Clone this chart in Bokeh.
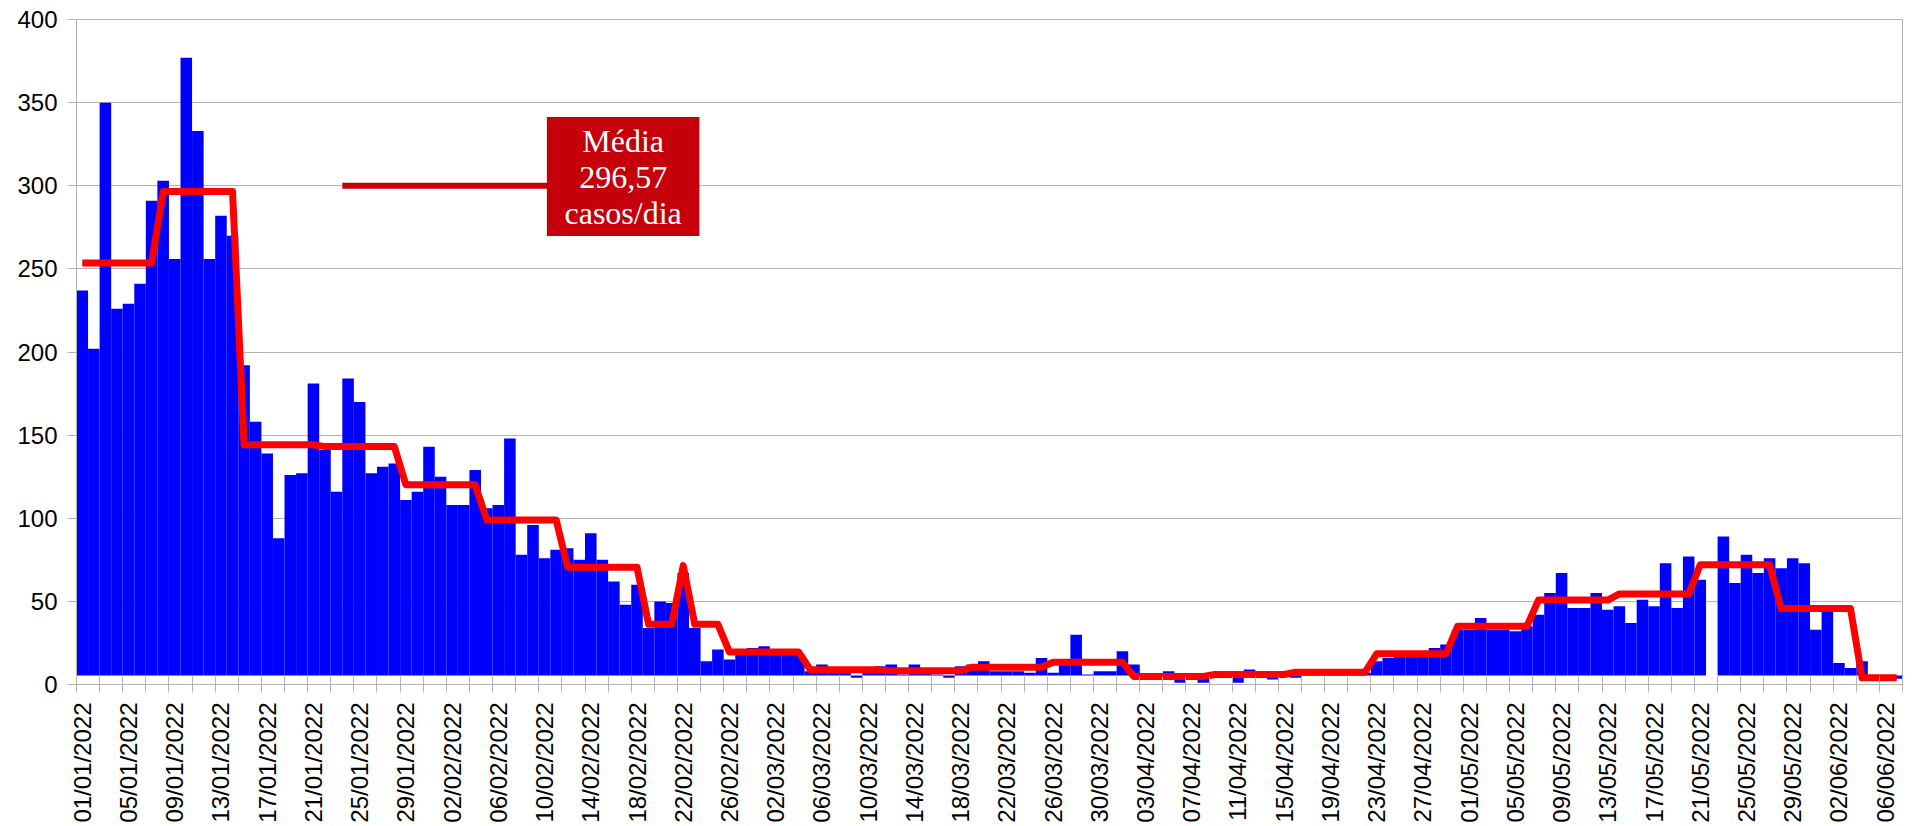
import numpy as np
import pandas as pd
from bokeh.plotting import figure
from bokeh.models import Range1d, FixedTicker, ColumnDataSource
from bokeh.embed import file_html
from bokeh.resources import INLINE
from bokeh.core.properties import value

# ---- data -------------------------------------------------------------
datas = [d.strftime("%d/%m/%Y") for d in pd.date_range("2022-01-01", periods=158)]

casos = [
    237, 202, 350, 226, 229, 241, 291,
    303, 256, 377, 333, 256, 282, 270,
    192, 158, 139, 88, 126, 127, 181,
    141, 116, 184, 170, 127, 131, 133,
    111, 116, 143, 125, 108, 108, 129,
    106, 108, 148, 78, 96, 76, 81,
    82, 75, 91, 75, 62, 48, 60,
    34, 50, 49, 67, 34, 14, 21,
    15, 20, 22, 23, 19, 18, 18,
    8, 12, 9, 8, 4, 9, 11,
    12, 6, 12, 7, 6, 4, 11,
    12, 14, 8, 8, 8, 7, 16,
    7, 14, 30, 6, 8, 8, 20,
    12, 4, 4, 8, 1, 4, 1,
    7, 7, 1, 9, 8, 3, 7,
    4, 8, 7, 8, 7, 9, 7,
    14, 16, 18, 18, 18, 22, 24,
    33, 33, 40, 33, 33, 32, 35,
    42, 55, 67, 46, 46, 55, 45,
    47, 37, 51, 47, 73, 46, 77,
    63, None, 89, 61, 78, 67, 76,
    70, 76, 73, 33, 45, 13, 10,
    14, None, None, 3.5,
]

media = [
    253.6, 253.6, 253.6, 253.6, 253.6, 253.6, 253.6,
    296.57, 296.57, 296.57, 296.57, 296.57, 296.57, 296.57,
    144.2, 144.2, 144.2, 144.2, 144.2, 144.2, 144.2,
    143.1, 143.1, 143.1, 143.1, 143.1, 143.1, 143.1,
    120.1, 120.1, 120.1, 120.1, 120.1, 120.1, 120.1,
    99.0, 99.0, 99.0, 99.0, 99.0, 99.0, 99.0,
    70.5, 70.5, 70.5, 70.5, 70.5, 70.5, 70.5,
    36.2, 36.2, 36.2, 71.5, 36.2, 36.2, 36.2,
    19.5, 19.5, 19.5, 19.5, 19.5, 19.5, 19.5,
    8.8, 8.8, 8.8, 8.8, 8.8, 8.8, 8.8,
    8.2, 8.2, 8.2, 8.2, 8.2, 8.2, 8.2,
    10.4, 10.4, 10.4, 10.4, 10.4, 10.4, 10.4,
    13.4, 13.4, 13.4, 13.4, 13.4, 13.4, 13.4,
    4.8, 4.8, 4.8, 4.8, 4.8, 4.8, 4.8,
    6.0, 6.0, 6.0, 6.0, 6.0, 6.0, 6.0,
    7.4, 7.4, 7.4, 7.4, 7.4, 7.4, 7.4,
    18.5, 18.5, 18.5, 18.5, 18.5, 18.5, 18.5,
    35.0, 35.0, 35.0, 35.0, 35.0, 35.0, 35.0,
    50.8, 50.8, 50.8, 50.8, 50.8, 50.8, 50.8,
    54.5, 54.5, 54.5, 54.5, 54.5, 54.5, 54.5,
    72.0, 72.0, 72.0, 72.0, 72.0, 72.0, 72.0,
    45.7, 45.7, 45.7, 45.7, 45.7, 45.7, 45.7,
    4.0, 4.0, 4.0, 4.0,
]

rotulo_media = ["Média", "296,57", "casos/dia"]
y_ticks = [0, 50, 100, 150, 200, 250, 300, 350, 400]

# ---- layout / style constants ---------------------------------------
BAR_ORIGIN = 5.4
GRID = "#b3b3b3"
DARK_RED = "#C5000B"

n = len(datas)
dia = list(range(n))
bar_src = ColumnDataSource(dict(
    x=[d for d, c in zip(dia, casos) if c is not None],
    top=[c for c in casos if c is not None],
))

p = figure(width=1912, height=826, output_backend="svg", toolbar_location=None,
           x_range=Range1d(-0.5, n - 0.5), y_range=Range1d(0, 400),
           min_border_left=76, min_border_right=10, min_border_top=19,
           min_border_bottom=142)
p.background_fill_color = "white"
p.border_fill_color = "white"
p.outline_line_color = GRID

p.vbar(x="x", top="top", bottom=BAR_ORIGIN, width=1.0, source=bar_src,
       fill_color="#0000FF", line_color=None)
p.line(dia, media, line_color="#FF0000", line_width=7, line_join="round")

# annotation
p.segment(x0=[22.5], y0=[300], x1=[40.4], y1=[300], line_color=DARK_RED, line_width=6)
p.quad(left=[40.2], right=[53.4], top=[341.4], bottom=[269.7],
       fill_color=DARK_RED, line_color=None)
p.text(x=[46.8, 46.8, 46.8], y=[326.8, 305.0, 283.5], text=rotulo_media,
       text_font=value("Liberation Serif"), text_font_size="32px",
       text_color="white", text_align="center", text_baseline="middle")

# x axis
xa = p.xaxis[0]
label_pos = list(range(0, n, 4))
xa.ticker = FixedTicker(ticks=label_pos, minor_ticks=[i - 0.5 for i in range(0, n + 1, 2)])
xa.major_label_overrides = {i: datas[i] for i in label_pos}
xa.major_label_orientation = np.pi / 2
xa.major_tick_in = 0
xa.major_tick_out = 0
xa.minor_tick_in = 8
xa.minor_tick_out = 8
xa.minor_tick_line_color = GRID
xa.major_tick_line_color = None
xa.axis_line_color = GRID
xa.major_label_text_font = "Liberation Sans"
xa.major_label_text_font_size = "24px"
xa.major_label_text_color = "black"
xa.major_label_standoff = 10

# y axis
ya = p.yaxis[0]
ya.ticker = FixedTicker(ticks=y_ticks)
ya.major_tick_in = 0
ya.major_tick_out = 9
ya.major_tick_line_color = GRID
ya.minor_tick_line_color = None
ya.axis_line_color = GRID
ya.major_label_text_font = "Liberation Sans"
ya.major_label_text_font_size = "24px"
ya.major_label_text_color = "black"
ya.major_label_standoff = 10

p.xgrid.visible = False
p.ygrid.ticker = FixedTicker(ticks=y_ticks)
p.ygrid.grid_line_color = GRID

open("out.html", "w").write(file_html(p, INLINE))
